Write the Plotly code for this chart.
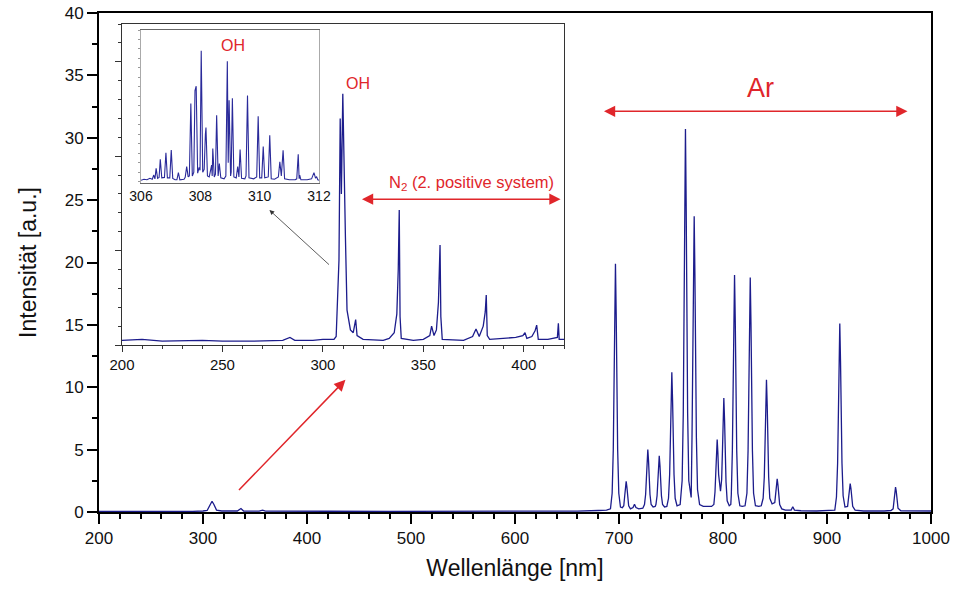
import plotly.graph_objects as go

# ---------------- data ----------------
# main spectrum, 200-1000 nm
main_wl = [200, 230, 260, 290, 300, 304, 307, 308.7, 310.5, 313, 318, 333, 336.5, 339,
           354, 357.3, 360, 376, 379.4, 382, 420, 480, 560, 620, 660, 680, 688,
           691.8, 693.4, 694.5, 695.2, 695.9, 696.6, 697.3, 698.0, 698.7, 699.8, 701.4, 703.2,
           704.6, 705.5, 706.2, 706.9, 707.6, 708.3, 709.3, 711,
           713.5, 714.9, 716.3, 719,
           722.9, 724.5, 725.6, 726.3, 727.0, 727.7, 728.4, 729.1, 729.8, 730.9, 732.8,
           734.8, 735.5, 736.6, 737.3, 738.0, 738.7, 739.4, 740.1, 740.8, 741.9, 743.8,
           746.0, 747.6, 748.7, 749.4, 750.1, 750.8, 751.5, 752.2, 752.9, 754.0, 755.8,
           758.8, 760.7, 761.8, 762.5, 763.2, 763.9, 764.6, 765.3, 766.0, 767.1, 769.4,
           770.2, 770.9, 771.6, 772.3, 773.0, 773.7, 774.4, 775.5, 777.5, 781,
           789, 791.2, 792.3, 793.0, 793.7, 794.4, 795.1, 795.8, 797.6,
           798.7, 799.4, 800.1, 800.8, 801.5, 802.2, 802.9, 804.0, 806.0,
           807.5, 808.0, 809.0, 809.7, 810.4, 811.1, 811.8, 812.5, 813.2, 814.3, 816.2, 818.5,
           821.2, 823.0, 824.1, 824.8, 825.5, 826.2, 826.9, 827.6, 828.3, 829.4, 831.2, 834.4,
           836.8, 838.6, 839.7, 840.4, 841.1, 841.8, 842.5, 843.2, 843.9, 845.0, 847.2,
           849.8, 850.7, 851.4, 852.1, 852.8, 853.5, 854.5, 856.5, 860,
           865.5, 867.1, 868.7, 875, 890, 905,
           907.5, 909.1, 910.2, 910.9, 911.6, 912.3, 913.0, 913.7, 914.4, 915.5, 917.3,
           919.8, 920.9, 921.6, 922.3, 923.0, 923.7, 924.7, 927, 935, 955, 961.5,
           963.6, 964.5, 965.2, 965.9, 966.6, 967.3, 968.3, 971, 1000]
main_I = [0.05, 0.04, 0.06, 0.05, 0.08, 0.12, 0.6, 0.86, 0.6, 0.15, 0.08, 0.08, 0.28, 0.08,
          0.07, 0.15, 0.07, 0.07, 0.12, 0.07, 0.06, 0.05, 0.06, 0.05, 0.07, 0.12, 0.15,
          0.25, 1.5, 5.0, 10.0, 15.9, 19.9, 15.9, 10.0, 5.0, 1.5, 0.4, 0.35,
          0.5, 1.3, 2.0, 2.46, 2.0, 1.3, 0.5, 0.25,
          0.35, 0.62, 0.35, 0.25,
          0.3, 0.6, 1.4, 2.6, 4.1, 5.0, 4.1, 2.6, 1.4, 0.6, 0.4,
          0.45, 0.6, 1.3, 2.35, 3.7, 4.5, 3.7, 2.35, 1.3, 0.6, 0.4,
          0.45, 1.1, 3.0, 5.7, 9.0, 11.2, 9.0, 5.7, 3.0, 1.1, 0.5,
          0.6, 2.5, 7.9, 15.5, 24.6, 30.7, 24.6, 15.5, 7.9, 2.5, 1.16,
          6.0, 11.9, 19.0, 23.7, 19.0, 11.9, 6.0, 1.8, 0.6, 0.45,
          0.45, 0.6, 1.6, 3.0, 4.7, 5.8, 4.7, 3.0, 1.66,
          2.6, 4.7, 7.4, 9.14, 7.4, 4.7, 2.4, 0.9, 0.5,
          0.6, 1.4, 4.9, 9.6, 15.3, 19.0, 15.3, 9.6, 4.9, 1.5, 0.5, 0.45,
          0.5, 1.5, 4.9, 9.5, 15.1, 18.8, 15.1, 9.5, 4.9, 1.5, 0.5, 0.45,
          0.5, 1.1, 2.8, 5.4, 8.6, 10.6, 8.6, 5.4, 2.8, 1.1, 0.65,
          0.75, 1.4, 2.2, 2.66, 2.2, 1.4, 0.6, 0.25, 0.15,
          0.15, 0.42, 0.15, 0.1, 0.08, 0.1,
          0.15, 1.2, 3.9, 7.6, 12.1, 15.1, 12.1, 7.6, 3.9, 1.3, 0.4,
          0.45, 1.2, 1.9, 2.28, 1.9, 1.2, 0.45, 0.15, 0.08, 0.08, 0.12,
          0.25, 1.0, 1.65, 2.0, 1.65, 1.0, 0.3, 0.1, 0.08]

# inset spectrum, 200-420 nm
inset_wl = [200, 210, 220, 240, 250, 265, 280, 283.6, 286, 295, 300, 305.5, 306.6, 307.2,
            307.6, 308.0, 308.6, 309.2, 309.9, 310.6, 311.2, 312.0, 313.7, 315.1, 316.3,
            317.0, 320, 330, 333, 335.5, 336.8, 337.5, 338.0, 338.4, 339, 345, 350, 353.2,
            354.1, 355.3, 356.5, 357.5, 358.3, 358.7, 359.4, 370, 372.5, 374.5, 376.2,
            377.8, 379.8, 380.8, 381.3, 381.8, 383, 390, 396, 399.5, 400.6, 401.5, 404,
            405.6, 406.4, 407.2, 412, 416.7, 417.2, 417.6, 420]
inset_I = [0.05, 0.06, 0.04, 0.05, 0.04, 0.04, 0.05, 0.08, 0.05, 0.05, 0.06, 0.06, 0.09, 0.5,
           0.72, 0.9, 2.40, 1.6, 2.66, 1.7, 1.15, 0.37, 0.16, 0.13, 0.27,
           0.1, 0.06, 0.05, 0.07, 0.13, 0.33, 0.8, 1.43, 0.3, 0.07, 0.05, 0.06, 0.1,
           0.2, 0.1, 0.16, 0.45, 1.06, 0.3, 0.06, 0.05, 0.07, 0.09, 0.17,
           0.09, 0.2, 0.35, 0.53, 0.1, 0.06, 0.07, 0.08, 0.1, 0.13, 0.07, 0.09,
           0.15, 0.21, 0.06, 0.06, 0.08, 0.23, 0.06, 0.06]

# nested inset: OH band, 306-312 nm
oh_wl = [306.00, 306.10, 306.20, 306.30, 306.38, 306.43, 306.47, 306.51, 306.56, 306.61,
         306.65, 306.70, 306.79, 306.84, 306.89, 306.97, 307.02, 307.07, 307.15, 307.21,
         307.26, 307.31, 307.45, 307.49, 307.54, 307.59, 307.63, 307.68, 307.73, 307.78,
         307.82, 307.86, 307.91, 307.96, 307.99, 308.03, 308.08, 308.13, 308.17, 308.19,
         308.24, 308.30, 308.38, 308.40, 308.42, 308.47, 308.51, 308.55, 308.60, 308.64,
         308.69, 308.80, 308.86, 308.91, 308.94, 308.97, 309.02, 309.04, 309.08, 309.13,
         309.21, 309.26, 309.30, 309.34, 309.39, 309.50, 309.54, 309.59, 309.64, 309.80,
         309.90, 309.95, 310.00, 310.07, 310.12, 310.17, 310.29, 310.34, 310.39, 310.50,
         310.63, 310.68, 310.73, 310.79, 310.84, 311.00, 311.20, 311.25, 311.30, 311.33,
         311.35, 311.39, 311.60, 311.75, 311.83, 311.88, 311.92, 311.96, 312.00]
oh_I = [0.15, 0.25, 0.20, 0.35, 0.25, 0.70, 0.30, 1.40, 0.35, 0.45,
        2.35, 0.40, 0.45, 3.05, 0.40, 0.40, 3.33, 0.35, 0.20, 0.20,
        0.95, 0.20, 0.25, 0.45, 1.58, 0.50, 0.60, 8.25, 0.60, 1.00,
        9.60, 10.07, 0.90, 1.50, 1.20, 13.80, 1.00, 1.30, 5.00, 5.70,
        0.60, 0.50, 1.75, 0.60, 3.50, 0.50, 0.80, 7.00, 0.60, 1.90,
        0.40, 0.30, 0.60, 12.70, 2.00, 8.60, 0.60, 1.00, 8.80, 0.50,
        0.40, 1.60, 0.50, 3.40, 0.35, 0.30, 0.60, 9.10, 0.40, 0.30,
        0.50, 6.90, 0.40, 0.40, 3.70, 0.40, 0.50, 4.90, 0.30, 0.25,
        0.50, 2.10, 0.60, 3.30, 0.30, 0.20, 0.20, 0.30, 2.90, 0.30,
        0.70, 0.20, 0.20, 0.30, 0.95, 0.40, 0.50, 0.20, 0.15]

main_xticks = [200, 300, 400, 500, 600, 700, 800, 900, 1000]
main_yticks = [0, 5, 10, 15, 20, 25, 30, 35, 40]
inset_xticks = [200, 250, 300, 350, 400]
oh_xticks = [306, 308, 310, 312]

# ---------------- figure ----------------
FONT = "Liberation Sans, Arial, sans-serif"
LINE = "#1c1c8c"
RED = "#e0262b"

fig = go.Figure()
fig.add_trace(go.Scatter(x=main_wl, y=main_I, mode="lines",
                         line=dict(color=LINE, width=1.3), xaxis="x", yaxis="y"))
fig.add_trace(go.Scatter(x=inset_wl, y=inset_I, mode="lines",
                         line=dict(color=LINE, width=1.3), xaxis="x2", yaxis="y2"))
fig.add_trace(go.Scatter(x=oh_wl, y=oh_I, mode="lines",
                         line=dict(color="#2a2a9a", width=1.1), xaxis="x3", yaxis="y3"))

# plot area in page pixels: x 99..931, y 13..512 (page body margin removed by post script)
W, H = 963, 589
L, T = 99, 13
pw, ph = 832, 499
R, B = W - L - pw, H - T - ph


def dom_x(a, b):  # page px -> paper fraction
    return [(a - L) / pw, (b - L) / pw]


def dom_y(top, bottom):
    return [(T + ph - bottom) / ph, (T + ph - top) / ph]


fig.update_layout(
    width=W, height=H, margin=dict(l=L, r=R, t=T, b=B, autoexpand=False),
    paper_bgcolor="white", plot_bgcolor="white", showlegend=False,
    font=dict(family=FONT, color="#111"),
    xaxis=dict(domain=[0, 1], range=[200, 1000], tickvals=main_xticks, automargin=False,
               ticklabeloverflow="allow",
               showline=True, linecolor="black", linewidth=2, mirror=True,
               ticks="outside", ticklen=10, tickwidth=1.5, tickcolor="black",
               minor=dict(dtick=20, ticks="outside", ticklen=5, tickwidth=1.5, tickcolor="black"),
               showgrid=False, zeroline=False, tickfont=dict(size=17),
               title=dict(text="Wellenlänge [nm]", font=dict(size=23), standoff=12)),
    yaxis=dict(domain=[0, 1], range=[0, 40], tickvals=main_yticks, automargin=False,
               ticklabeloverflow="allow",
               showline=True, linecolor="black", linewidth=2, mirror=True,
               ticks="outside", ticklen=10, tickwidth=1.5, tickcolor="black",
               minor=dict(dtick=2.5, ticks="outside", ticklen=5, tickwidth=1.5, tickcolor="black"),
               showgrid=False, zeroline=False, tickfont=dict(size=17),
               title=dict(text="Intensität [a.u.]", font=dict(size=23), standoff=22)),
    xaxis2=dict(domain=dom_x(122, 564), anchor="y2", range=[200, 420], tickvals=inset_xticks,
                automargin=False,
                showline=True, linecolor="#333", linewidth=1.2, mirror=True,
                ticks="outside", ticklen=6, tickwidth=1, tickcolor="#333",
                minor=dict(dtick=10, ticks="outside", ticklen=3, tickwidth=1, tickcolor="#333"),
                showgrid=False, zeroline=False, tickfont=dict(size=15)),
    yaxis2=dict(domain=dom_y(24, 345), anchor="x2", range=[0, 3.4], dtick=1, automargin=False,
                showline=True, linecolor="#333", linewidth=1.2, mirror=True,
                ticks="outside", ticklen=6, tickwidth=1, tickcolor="#333",
                minor=dict(dtick=0.2, ticks="outside", ticklen=3, tickwidth=1, tickcolor="#333"),
                showticklabels=False, showgrid=False, zeroline=False),
    xaxis3=dict(domain=dom_x(141, 319), anchor="y3", range=[306, 312], tickvals=oh_xticks,
                automargin=False,
                showline=True, linecolor="#666", linewidth=1, mirror=True,
                ticks="", showgrid=False, zeroline=False, tickfont=dict(size=14)),
    yaxis3=dict(domain=dom_y(30, 183), anchor="x3", range=[-0.14, 16], dtick=1, automargin=False,
                showline=True, linecolor="#aaa", linewidth=1, mirror=True,
                ticks="outside", ticklen=2, tickwidth=1, tickcolor="#999",
                showticklabels=False, showgrid=False, zeroline=False),
)

ann = []
# text labels
ann.append(dict(x=448.6, y=34.36, xref="x", yref="y", text="OH", showarrow=False,
                font=dict(size=16, color=RED)))
ann.append(dict(x=329.3, y=37.4, xref="x", yref="y", text="OH", showarrow=False,
                font=dict(size=16, color=RED)))
ann.append(dict(x=557.7, y=26.36, xref="x", yref="y", text="N<sub>2</sub> (2. positive system)",
                showarrow=False, font=dict(size=16.5, color=RED)))
ann.append(dict(x=836.1, y=33.96, xref="x", yref="y", text="Ar", showarrow=False,
                font=dict(size=27, color=RED)))
# double arrows
ann.append(dict(x=977.4, y=32.12, ax=684.1, ay=32.12, xref="x", yref="y", axref="x", ayref="y",
                text="", showarrow=True, arrowside="end+start", arrowhead=2, arrowsize=1.5,
                arrowwidth=1.5, arrowcolor=RED))
ann.append(dict(x=643.8, y=25.08, ax=451.4, ay=25.08, xref="x", yref="y", axref="x", ayref="y",
                text="", showarrow=True, arrowside="end+start", arrowhead=2, arrowsize=1.5,
                arrowwidth=1.5, arrowcolor=RED))
# pointer arrows
ann.append(dict(x=437.0, y=10.6, ax=333.2, ay=1.64, xref="x", yref="y", axref="x", ayref="y",
                text="", showarrow=True, arrowhead=2, arrowsize=1.5, arrowwidth=1.5,
                arrowcolor=RED))
ann.append(dict(x=363.9, y=24.2, ax=422.6, ay=19.72, xref="x", yref="y", axref="x", ayref="y",
                text="", showarrow=True, arrowhead=2, arrowsize=1.2, arrowwidth=0.8,
                arrowcolor="#333"))
fig.update_layout(annotations=ann)

fig.write_html("out.html", config={"displayModeBar": False},
               post_script="document.body.style.margin='0';")
